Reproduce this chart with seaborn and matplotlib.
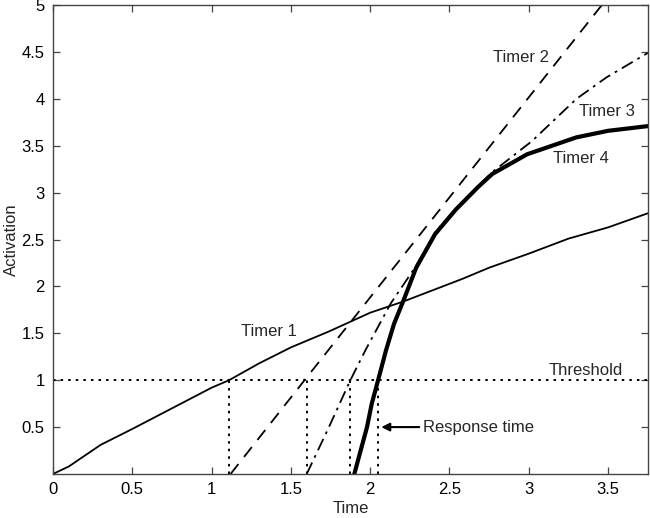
import matplotlib
import numpy as np
import pandas as pd
import seaborn as sns

matplotlib.use("Agg")
import matplotlib.pyplot as plt


# curves
timer1_x = [0, 0.1, 0.3, 0.5, 0.75, 1.0, 1.11, 1.3, 1.5, 1.74, 2.0, 2.21, 2.58, 2.75, 3.0, 3.25, 3.5, 3.75]
timer1_y = [0, 0.08, 0.31, 0.48, 0.7, 0.92, 1.0, 1.18, 1.35, 1.52, 1.72, 1.84, 2.08, 2.2, 2.35, 2.51, 2.63, 2.78]

timer2_x = [1.12, 1.6, 2.2, 2.8, 3.46]
timer2_y = [0, 1.03, 2.31, 3.59, 5.0]

timer3_x = [1.6, 1.74, 1.875, 1.97, 2.13, 2.29, 2.41, 2.54, 2.68, 2.77, 3.02, 3.3, 3.49, 3.75]
timer3_y = [0, 0.5, 1.0, 1.32, 1.82, 2.22, 2.58, 2.83, 3.07, 3.22, 3.55, 4.0, 4.23, 4.49]

timer4_x = [1.9, 1.94, 1.98, 2.01, 2.05, 2.1, 2.15, 2.21, 2.29, 2.41, 2.54, 2.68, 2.77, 2.99, 3.3, 3.5, 3.75]
timer4_y = [0, 0.25, 0.5, 0.75, 1.0, 1.32, 1.6, 1.85, 2.2, 2.56, 2.82, 3.06, 3.2, 3.41, 3.59, 3.66, 3.71]

threshold = 1.0
response_times = [1.11, 1.60, 1.875, 2.05]

x_ticks = [0, 0.5, 1, 1.5, 2, 2.5, 3, 3.5]
y_ticks = [0.5, 1, 1.5, 2, 2.5, 3, 3.5, 4, 4.5, 5]


def main() -> None:
    sns.set_theme(style="ticks")
    plt.rcParams["font.family"] = ["Liberation Sans", "DejaVu Sans"]

    fig = plt.figure(figsize=(6.5, 5.18), dpi=100)
    ax = fig.add_axes([0.0815, 0.085, 0.915, 0.905])

    t1 = pd.DataFrame({"x": timer1_x, "y": timer1_y})
    t2 = pd.DataFrame({"x": timer2_x, "y": timer2_y})
    t3 = pd.DataFrame({"x": timer3_x, "y": timer3_y})
    t4 = pd.DataFrame({"x": timer4_x, "y": timer4_y})

    sns.lineplot(data=t1, x="x", y="y", ax=ax, color="black", lw=1.3, estimator=None, sort=False)
    sns.lineplot(data=t2, x="x", y="y", ax=ax, color="black", lw=1.3, estimator=None, sort=False,
                 linestyle=(0, (7, 5)))
    sns.lineplot(data=t3, x="x", y="y", ax=ax, color="black", lw=1.3, estimator=None, sort=False,
                 linestyle=(0, (7, 3, 1.5, 3)))
    sns.lineplot(data=t4, x="x", y="y", ax=ax, color="black", lw=3, estimator=None, sort=False)

    ax.axhline(threshold, color="black", lw=1.4, linestyle=(0, (1.3, 2.6)))
    for rt in response_times:
        ax.plot([rt, rt], [0, threshold], color="black", lw=1.4, linestyle=(0, (1.3, 2.6)))

    fs = 12
    ax.text(1.36, 1.52, "Timer 1", fontsize=fs, ha="center", va="center")
    ax.text(2.95, 4.44, "Timer 2", fontsize=fs, ha="center", va="center")
    ax.text(3.49, 3.87, "Timer 3", fontsize=fs, ha="center", va="center")
    ax.text(3.33, 3.36, "Timer 4", fontsize=fs, ha="center", va="center")
    ax.text(3.36, 1.1, "Threshold", fontsize=fs, ha="center", va="center")
    ax.annotate("Response time", xy=(2.07, 0.5), xytext=(2.33, 0.5), fontsize=fs,
                va="center", ha="left",
                arrowprops=dict(arrowstyle="-|>", color="black", lw=1.5, shrinkA=0, shrinkB=0))

    ax.set_xlim(0, 3.75)
    ax.set_ylim(0, 5)
    ax.set_xticks(x_ticks)
    ax.set_xticklabels([f"{t:g}" for t in x_ticks])
    ax.set_yticks(y_ticks)
    ax.set_yticklabels([f"{t:g}" for t in y_ticks])
    ax.tick_params(direction="in", top=True, right=True, length=5, width=0.9, labelsize=fs,
                   colors="#444444", labelcolor="black", pad=6)
    for spine in ax.spines.values():
        spine.set_visible(True)
        spine.set_color("#444444")
        spine.set_linewidth(1.0)
    ax.set_xlabel("Time", fontsize=fs, labelpad=3)
    ax.set_ylabel("Activation", fontsize=fs, labelpad=2)

    fig.savefig("out.png", dpi=100)
    plt.close(fig)


if __name__ == "__main__":
    main()
